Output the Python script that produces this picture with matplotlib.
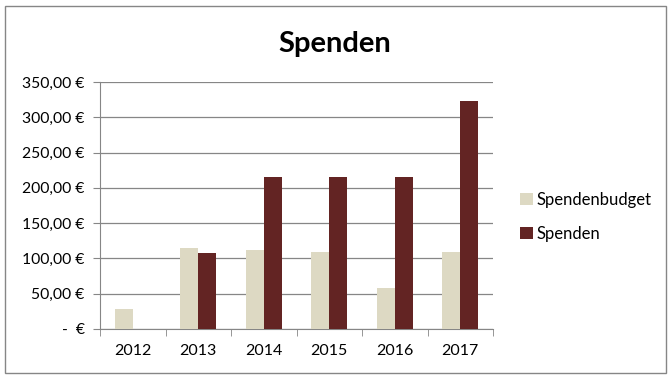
import matplotlib.pyplot as plt
from matplotlib.patches import Rectangle
import numpy as np

years = ["2012", "2013", "2014", "2015", "2016", "2017"]
budget = [28, 115, 112, 109, 58, 109]
spenden = [0, 108, 215, 215, 215, 323]
yticks = [0, 50, 100, 150, 200, 250, 300, 350]
ytick_labels = ["-  €", "50,00 €", "100,00 €", "150,00 €", "200,00 €",
                "250,00 €", "300,00 €", "350,00 €"]

plt.rcParams["font.family"] = ["Lato", "DejaVu Sans"]

fig = plt.figure(figsize=(6.71, 3.78), dpi=100)
W, H = 671, 378
ax = fig.add_axes([100 / W, 1 - 329 / H, 393 / W, 247 / H])

x = np.arange(len(years))
bw = 0.275
ax.bar(x - bw / 2, budget, bw, color="#DDD9C3", label="Spendenbudget", zorder=3)
ax.bar(x + bw / 2, spenden, bw, color="#632423", label="Spenden", zorder=3)

ax.set_xlim(-0.5, len(years) - 0.5)
ax.set_ylim(0, 350)
ax.set_yticks(yticks)
ax.set_yticklabels(ytick_labels, fontsize=11.3)
ax.set_xticks(x)
ax.set_xticklabels(years, fontsize=11.5)
ax.tick_params(axis="x", length=0, pad=11)
ax.set_xticks(np.arange(-0.5, len(years)), minor=True)
ax.tick_params(axis="x", which="minor", length=5, color="#868686", direction="out")
ax.tick_params(axis="y", length=5, color="#868686", direction="out", pad=6)
ax.grid(axis="y", color="#868686", linewidth=0.9, zorder=0)

for side in ["top", "right"]:
    ax.spines[side].set_visible(False)
for side in ["left", "bottom"]:
    ax.spines[side].set_color("#868686")

fig.text(335 / W, 1 - 44 / H, "Spenden", ha="center", va="center",
         fontsize=21, fontweight="bold")

ax.legend(loc="center left", bbox_to_anchor=(505 / W, 1 - 217 / H),
          bbox_transform=fig.transFigure, frameon=False, fontsize=12,
          handlelength=0.75, handleheight=0.75, handletextpad=0.25, labelspacing=1.1)

fig.patches.append(Rectangle((5 / W, 5 / H), 661 / W, 367 / H, transform=fig.transFigure,
                             fill=False, edgecolor="#868686", linewidth=1))

fig.savefig("out.png", dpi=100)
